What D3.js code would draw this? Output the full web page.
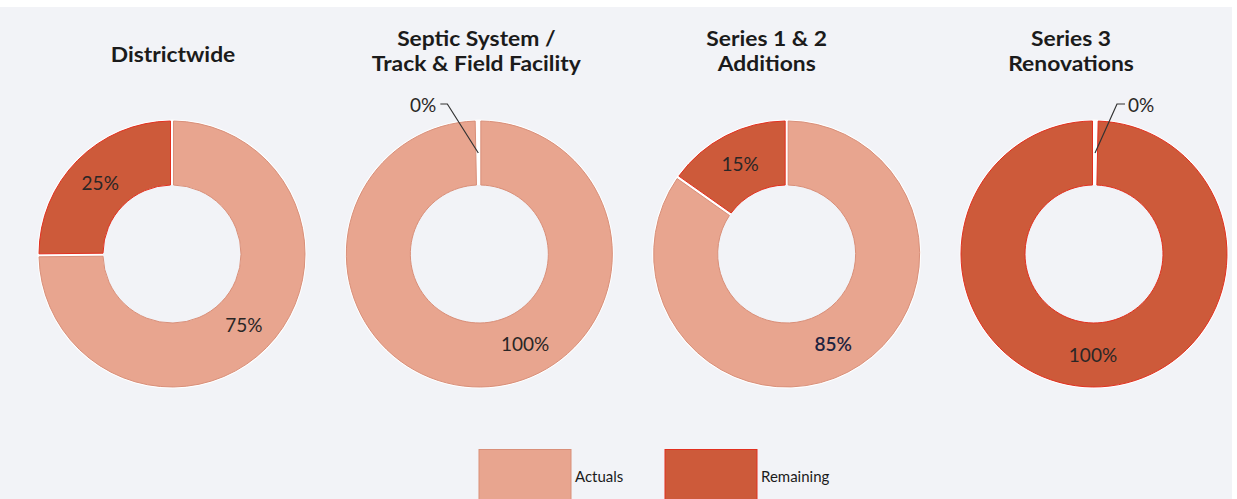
<!DOCTYPE html>
<html><head><meta charset="utf-8">
<script src="https://cdn.jsdelivr.net/npm/d3@7"></script>
<style>html,body{margin:0;padding:0;background:#fff;overflow:hidden;} svg{display:block;font-family:Lato,"Open Sans",sans-serif;}</style>
</head><body><svg id="c" width="1237" height="499"></svg>
<script>
// ---- data ----
const categories = ["Districtwide", "Septic System / Track & Field Facility", "Series 1 & 2 Additions", "Series 3 Renovations"];
const titleLines = [["Districtwide"], ["Septic System /", "Track & Field Facility"], ["Series 1 & 2", "Additions"], ["Series 3", "Renovations"]];
const seriesNames = ["Actuals", "Remaining"];
const actuals = [75, 100, 85, 0];
const remaining = [25, 0, 15, 100];

// ---- layout / style ----
const W = 1237, H = 499;
const colors = {Actuals: "#e8a58f", Remaining: "#cd5a3a"};
const outlines = {Actuals: "#d98f79", Remaining: "#e2301f"};
const titleDx = [1, -3, -20, -23];
const labelAngleOverride = {"1-Actuals": 153};
const labelFill = {"2-Actuals": "#1d2340"};

const svg = d3.select("#c");
svg.append("rect").attr("width", W).attr("height", H).attr("fill", "#ffffff");
svg.append("rect").attr("x", 0).attr("y", 7).attr("width", 1232).attr("height", H - 7).attr("fill", "#f2f3f7");

const x = d3.scalePoint().domain(categories).range([172, 1094]);
const cy = 254, rOut = 133, rIn = 69;
const pie = d3.pie().sort(null).value(d => d.value).padAngle(0.02).startAngle(0).endAngle(2 * Math.PI);
const arc = d3.arc().innerRadius(rIn).outerRadius(rOut);
const fmt = v => d3.format(".0%")(v / 100);

categories.forEach((cat, i) => {
  const cx = x(cat);
  const g = svg.append("g").attr("transform", `translate(${cx},${cy})`);
  const data = seriesNames.map((s, j) => ({series: s, value: [actuals, remaining][j][i]}));
  const arcs = pie(data);

  // white ring under slices -> white separators
  g.append("path").attr("d", d3.arc().innerRadius(rIn).outerRadius(rOut + 1.5)({startAngle: 0, endAngle: 2 * Math.PI}))
    .attr("fill", "#ffffff");

  g.selectAll("path.slice").data(arcs.filter(d => d.data.value > 0)).join("path")
    .attr("class", "slice")
    .attr("d", arc)
    .attr("fill", d => colors[d.data.series])
    .attr("stroke", d => outlines[d.data.series])
    .attr("stroke-width", 1);

  // labels
  arcs.forEach((d, j) => {
    const key = i + "-" + d.data.series;
    const txt = fmt(d.data.value);
    if (d.data.value > 0) {
      let c;
      if (labelAngleOverride[key] !== undefined) {
        const a = labelAngleOverride[key] * Math.PI / 180;
        c = arc.centroid({startAngle: a, endAngle: a});
      } else c = arc.centroid(d);
      g.append("text").attr("x", c[0]).attr("y", c[1])
        .attr("text-anchor", "middle").attr("dy", "0.36em")
        .attr("font-size", 19).attr("fill", labelFill[key] || "#2a2626")
        .attr("font-weight", labelFill[key] ? 600 : 400)
        .text(txt);
    } else {
      const e = arc.centroid(d);
      const side = j === 0 ? 1 : -1;
      const ly = -150;
      const elbow = [side > 0 ? 23 : -32, ly];
      const hend = [side > 0 ? 31 : -39, ly];
      const lx = side > 0 ? 34 : -43;
      g.append("path").attr("d", d3.line()([[e[0], e[1]], elbow, hend]))
        .attr("fill", "none").attr("stroke", "#333").attr("stroke-width", 1.2);
      g.append("text").attr("x", lx).attr("y", ly + 1.5)
        .attr("dy", "0.36em")
        .attr("text-anchor", side > 0 ? "start" : "end")
        .attr("font-size", 19).attr("fill", "#2a2626")
        .text(txt);
    }
  });

  // title
  const lines = titleLines[i];
  const t = svg.append("text").attr("text-anchor", "middle")
    .attr("transform", `translate(${cx + titleDx[i]},0) scale(1.12,1)`)
    .attr("font-size", 20.4).attr("font-weight", 700).attr("fill", "#1b1b1b");
  const base = lines.length === 1 ? 62 : 46;
  lines.forEach((ln, k) => {
    t.append("tspan").attr("x", 0).attr("y", base + k * 24.6).text(ln);
  });
});

// legend
const legendX = d3.scalePoint().domain(seriesNames).range([479, 665]);
seriesNames.forEach(s => {
  const lx = legendX(s);
  svg.append("rect").attr("x", lx).attr("y", 449.5).attr("width", 92).attr("height", 70)
    .attr("fill", colors[s]).attr("stroke", outlines[s]).attr("stroke-width", 1);
  svg.append("text").attr("x", lx + 96).attr("y", 482).attr("font-size", 15)
    .attr("fill", "#1b1b1b").text(s);
});
</script>
</body></html>
